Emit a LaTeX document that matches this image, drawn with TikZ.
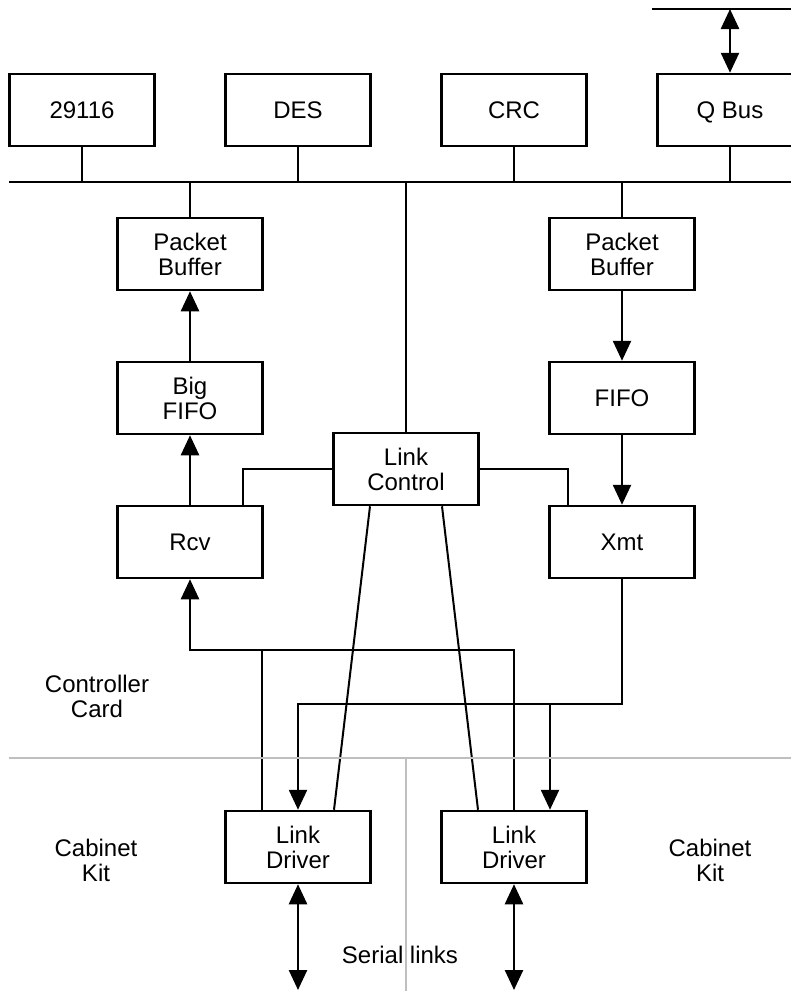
\documentclass[tikz,border=0pt]{standalone}
\usepackage{fontspec}
\setmainfont{Liberation Sans}
\usetikzlibrary{arrows.meta}

\begin{document}
\begin{tikzpicture}[x=0.5pt,y=-0.5pt,>={Triangle[length=10pt,width=9pt]},
	line width=1.25pt,
	font=\fontsize{12}{12.5}\selectfont,
	blk/.style={
		draw, minimum width=72.5pt, minimum height=36pt,
		inner sep=0pt, align=center
	},
	lbl/.style={align=center},
	divider/.style={draw=black!25, line width=1pt}
]
\useasboundingbox (0,0) rectangle (791,991);

% boxes on the bus
\node[blk] (c29116) at (82,110) {29116};
\node[blk] (des) at (298,110) {DES};
\node[blk] (crc) at (514,110) {CRC};
\node[blk, text depth=0pt] (qbus) at (730,110) {Q Bus};

\node[blk] (pbl) at (190,254) {Packet\\Buffer};
\node[blk] (bigfifo) at (190,398) {Big\\FIFO};
\node[blk] (rcv) at (190,542) {Rcv};
\node[blk] (pbr) at (622,254) {Packet\\Buffer};
\node[blk] (fifo) at (622,398) {FIFO};
\node[blk] (xmt) at (622,542) {Xmt};
\node[blk] (lctl) at (406,469) {Link\\Control};

\node[blk] (ldl) at (298,847) {Link\\Driver};
\node[blk] (ldr) at (514,847) {Link\\Driver};

\coordinate (busL) at (9,182);
\coordinate (busR) at (791,182);
\coordinate (qL) at (652,9);
\coordinate (qR) at (791,9);
\coordinate (rjoin) at (514,650);
\coordinate (xjoin) at (298,704);
\coordinate (sl) at (298,990);
\coordinate (sr) at (514,990);

% bus
\draw (busL) -- (busR);
\draw (qL) -- (qR);
\draw[<->] (qbus.north) -- (qbus.north |- qL);
\foreach \n in {c29116,des,crc,qbus,pbl,pbr} {
	\draw (\n) -- (\n |- busL);
}
\draw (lctl) -- (lctl |- busL);

% data paths
\draw[->] (bigfifo) -- (pbl);
\draw[->] (rcv) -- (bigfifo);
\draw[->] (pbr) -- (fifo);
\draw[->] (fifo) -- (xmt);
\draw (lctl.west) -| ([xshift=26.5pt]rcv.north);
\draw (lctl.east) -| ([xshift=-27pt]xmt.north);
\draw[line width=1pt] ([xshift=-18pt]lctl.south) -- ([xshift=18pt]ldl.north);
\draw[line width=1pt] ([xshift=18pt]lctl.south) -- ([xshift=-18pt]ldr.north);

\draw[->] (ldr.north) -- (rjoin) -| (rcv.south);
\draw ([xshift=-18pt]ldl.north) -- ([xshift=-18pt]ldl.north |- rjoin);
\draw[->] (xmt.south) |- (xjoin) -- (ldl.north);
\draw[->] ([xshift=18pt]ldr.north |- xjoin) -- ([xshift=18pt]ldr.north);

\draw[<->] (ldl.south) -- (sl);
\draw[<->] (ldr.south) -- (sr);

% card / cabinet split
\draw[divider] (9,758) -- (791,758);
\draw[divider] (406,758) -- (406,991);

\node[lbl] (ctlcard) at (97,696) {Controller\\Card};
\node[lbl] (cabl) at (96,860) {Cabinet\\Kit};
\node[lbl] (cabr) at (710,860) {Cabinet\\Kit};
\node (serial) at (400,955) {Serial links};
\end{tikzpicture}
\end{document}
